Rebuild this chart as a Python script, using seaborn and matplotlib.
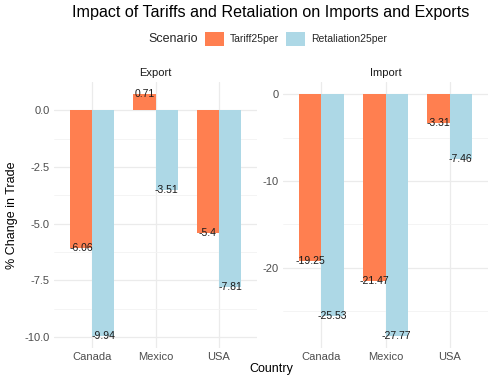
import matplotlib
matplotlib.use("Agg")
import matplotlib.pyplot as plt
from matplotlib.patches import Patch
from matplotlib.ticker import AutoMinorLocator, FormatStrFormatter, MultipleLocator
import pandas as pd
import seaborn as sns

# data
countries = ["Canada", "Mexico", "USA"]
scenarios = ["Tariff25per", "Retaliation25per"]
export_tariff = [-6.06, 0.71, -5.4]
export_retaliation = [-9.94, -3.51, -7.81]
import_tariff = [-19.25, -21.47, -3.31]
import_retaliation = [-25.53, -27.77, -7.46]

colors = {"Tariff25per": "#FF7F50", "Retaliation25per": "#ADD8E6"}


def make_frame(tariff, retaliation):
    rows = []
    for c, v in zip(countries, tariff):
        rows.append({"Country": c, "Scenario": "Tariff25per", "Value": v})
    for c, v in zip(countries, retaliation):
        rows.append({"Country": c, "Scenario": "Retaliation25per", "Value": v})
    return pd.DataFrame(rows)


sns.set_theme(style="whitegrid")
plt.rcParams["font.family"] = ["Liberation Sans", "DejaVu Sans"]

W, H = 496, 381
fig = plt.figure(figsize=(W / 100, H / 100), dpi=100)
fig.patch.set_facecolor("white")


def panel(left, right, df, title, step, fmt):
    ax = fig.add_axes([left / W, (H - 347.6) / H, (right - left) / W, (347.6 - 82) / H])
    sns.barplot(data=df, x="Country", y="Value", hue="Scenario", order=countries,
                hue_order=scenarios, palette=colors, width=0.7, saturation=1,
                errorbar=None, legend=False, linewidth=0, ax=ax)
    vmin, vmax = min(df["Value"].min(), 0), max(df["Value"].max(), 0)
    pad = (vmax - vmin) * 0.05
    ax.set_ylim(vmin - pad, vmax + pad)
    ax.set_xlim(-0.6, 2.6)
    # value labels at bar ends
    for cont, sc in zip(ax.containers, scenarios):
        vals = df[df["Scenario"] == sc].set_index("Country").loc[countries, "Value"]
        for patch, v in zip(cont.patches, vals):
            ax.text(patch.get_x() + patch.get_width() / 2, v, f"{v:g}",
                    ha="center", va="center", fontsize=7.5, color="#1a1a1a")
    ax.set_facecolor("white")
    for s in ax.spines.values():
        s.set_visible(False)
    ax.yaxis.set_major_locator(MultipleLocator(step))
    ax.yaxis.set_minor_locator(AutoMinorLocator(2))
    ax.yaxis.set_major_formatter(FormatStrFormatter(fmt))
    ax.grid(True, which="major", color="#EBEBEB", linewidth=0.9)
    ax.grid(True, which="minor", axis="y", color="#F3F3F3", linewidth=0.6)
    ax.set_axisbelow(True)
    ax.tick_params(axis="both", which="both", length=0, labelsize=8,
                   labelcolor="#4D4D4D", pad=3)
    ax.set_xlabel("")
    ax.set_ylabel("")
    ax.set_title(title, fontsize=8, color="#1A1A1A", pad=4)
    return ax


panel(54, 257, make_frame(export_tariff, export_retaliation), "Export", 2.5, "%.1f")
panel(283, 488, make_frame(import_tariff, import_retaliation), "Import", 10, "%.0f")

fig.text(0.024, (H - 215) / H, "% Change in Trade", rotation=90, ha="center",
         va="center", fontsize=9, color="black")
fig.text(271 / W, (H - 369) / H, "Country", ha="center", va="center",
         fontsize=9, color="black")
fig.text(271 / W, (H - 12) / H, "Impact of Tariffs and Retaliation on Imports and Exports",
         ha="center", va="center", fontsize=11.6, color="black")

fig.text(148 / W, (H - 39) / H, "Scenario", ha="left", va="center", fontsize=9)
handles = [Patch(facecolor=colors[s], edgecolor="none", label=s) for s in scenarios]
fig.legend(handles=handles, loc="center left", bbox_to_anchor=(205 / W, (H - 39) / H),
           ncol=2, frameon=False, fontsize=7.5, handlelength=1.8, handleheight=1.6,
           handletextpad=0.6, columnspacing=0.7, borderpad=0, borderaxespad=0)

fig.savefig("out.png", dpi=100, facecolor="white")
